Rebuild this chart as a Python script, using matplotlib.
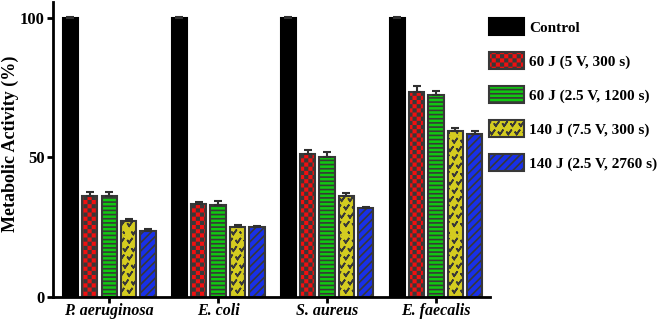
import warnings
import numpy as np
import matplotlib
matplotlib.use('Agg')
import matplotlib.pyplot as plt
import matplotlib.hatch as mhatch
from matplotlib.path import Path

warnings.filterwarnings('ignore')

categories = ['P. aeruginosa', 'E. coli', 'S. aureus', 'E. faecalis']
series_labels = ['Control', '60 J (5 V, 300 s)', '60 J (2.5 V, 1200 s)',
                 '140 J (7.5 V, 300 s)', '140 J (2.5 V, 2760 s)']
control = [100, 100, 100, 100]
j60_5v = [36.3, 33.4, 51.2, 73.5]
j60_25v = [36.0, 33.0, 50.0, 72.3]
j140_75v = [27.1, 25.2, 36.2, 59.4]
j140_25v = [23.8, 25.0, 31.8, 58.4]
control_err = [0.3, 0.3, 0.3, 0.3]
j60_5v_err = [1.2, 0.8, 1.5, 2.0]
j60_25v_err = [1.5, 1.3, 1.8, 1.6]
j140_75v_err = [0.9, 0.5, 1.0, 1.2]
j140_25v_err = [0.5, 0.4, 0.6, 1.0]


# checkerboard hatch ('c') and little v marks ('v')
class CheckerHatch(mhatch.HatchPatternBase):
    def __init__(self, hatch, density):
        self.n = hatch.count('c') * density * 4
        self.num_vertices = (self.n * self.n // 2) * 5

    def set_vertices_and_codes(self, vertices, codes):
        s = 1.0 / self.n
        k = 0.2
        sq = np.array([[k, k], [1 - k, k], [1 - k, 1 - k], [k, 1 - k], [k, k]]) * s
        parts = [sq + [i * s, j * s] for i in range(self.n)
                 for j in range(self.n) if (i + j) % 2 == 0]
        vertices[:] = np.concatenate(parts)
        codes[:] = np.tile([Path.MOVETO, Path.LINETO, Path.LINETO,
                            Path.LINETO, Path.CLOSEPOLY], len(parts))


class VeeHatch(mhatch.HatchPatternBase):
    def __init__(self, hatch, density):
        self.n = hatch.count('v') * density * 2
        if self.n == 0:
            self.num_vertices = 0
        else:
            nshapes = (self.n // 2 + 1) * (self.n + 1) + (self.n // 2) * self.n
            self.num_vertices = nshapes * 5

    def set_vertices_and_codes(self, vertices, codes):
        s = 1.0 / self.n
        v = np.array([[-0.17, 0.12], [0, -0.12], [0.17, 0.12],
                      [0, -0.12], [-0.17, 0.12]]) * s
        parts = []
        for row in range(self.n + 1):
            if row % 2 == 0:
                cols = np.linspace(0, 1, self.n + 1)
            else:
                cols = np.linspace(s / 2, 1 - s / 2, self.n)
            for c in cols:
                parts.append(v + [c, row * s])
        vertices[:] = np.concatenate(parts)
        codes[:] = np.tile([Path.MOVETO, Path.LINETO, Path.LINETO,
                            Path.LINETO, Path.LINETO], len(parts))


mhatch._hatch_types.extend([CheckerHatch, VeeHatch])

plt.rcParams['font.family'] = 'Liberation Serif'
plt.rcParams['font.weight'] = 'bold'
plt.rcParams['hatch.linewidth'] = 1.2

fig = plt.figure(figsize=(6.63, 3.19), dpi=100)
ax = fig.add_axes([0.080, 0.069, 0.659, 0.925])

values = [control, j60_5v, j60_25v, j140_75v, j140_25v]
errors = [control_err, j60_5v_err, j60_25v_err, j140_75v_err, j140_25v_err]
faces = ['black', '#f01010', '#10c810', '#d4cc20', '#1830e8']
edges = ['black', '#383838', '#383838', '#383838', '#383838']
hatches = [None, 'c', '----', 'v', '////']

x = np.arange(len(categories))
slot = 0.178
width = 0.14
for i, (vals, errs) in enumerate(zip(values, errors)):
    pos = x + (i - 2) * slot
    ax.bar(pos, vals, width, color=faces[i], edgecolor=edges[i], hatch=hatches[i],
           linewidth=1.5, label=series_labels[i], zorder=2)
    ax.errorbar(pos, vals, yerr=[np.zeros(len(errs)), errs], fmt='none',
                ecolor='#303030', elinewidth=1.5, capsize=3, capthick=1.5, zorder=3)

ax.set_xlim(-0.515, 3.495)
ax.set_ylim(0, 105.7)
ax.set_yticks([0, 50, 100])
ax.set_xticks(x)
ax.set_xticklabels(categories, style='italic', fontsize=11.5)
ax.tick_params(axis='y', labelsize=12, length=4.5, width=2, pad=1.5)
ax.tick_params(axis='x', length=4.5, width=2, pad=0)
ax.set_ylabel('Metabolic Activity (%)', fontsize=13, fontweight='bold')
ax.yaxis.set_label_coords(-0.077, 0.52)
for side in ['top', 'right']:
    ax.spines[side].set_visible(False)
for side in ['left', 'bottom']:
    ax.spines[side].set_linewidth(2)

fig.legend(loc='upper left', bbox_to_anchor=(0.7376, 0.944), frameon=False,
           borderpad=0, borderaxespad=0, fontsize=11, handlelength=2.3,
           handleheight=1.35, handletextpad=0.3, labelspacing=1.1)

fig.savefig('out.png', dpi=100)
